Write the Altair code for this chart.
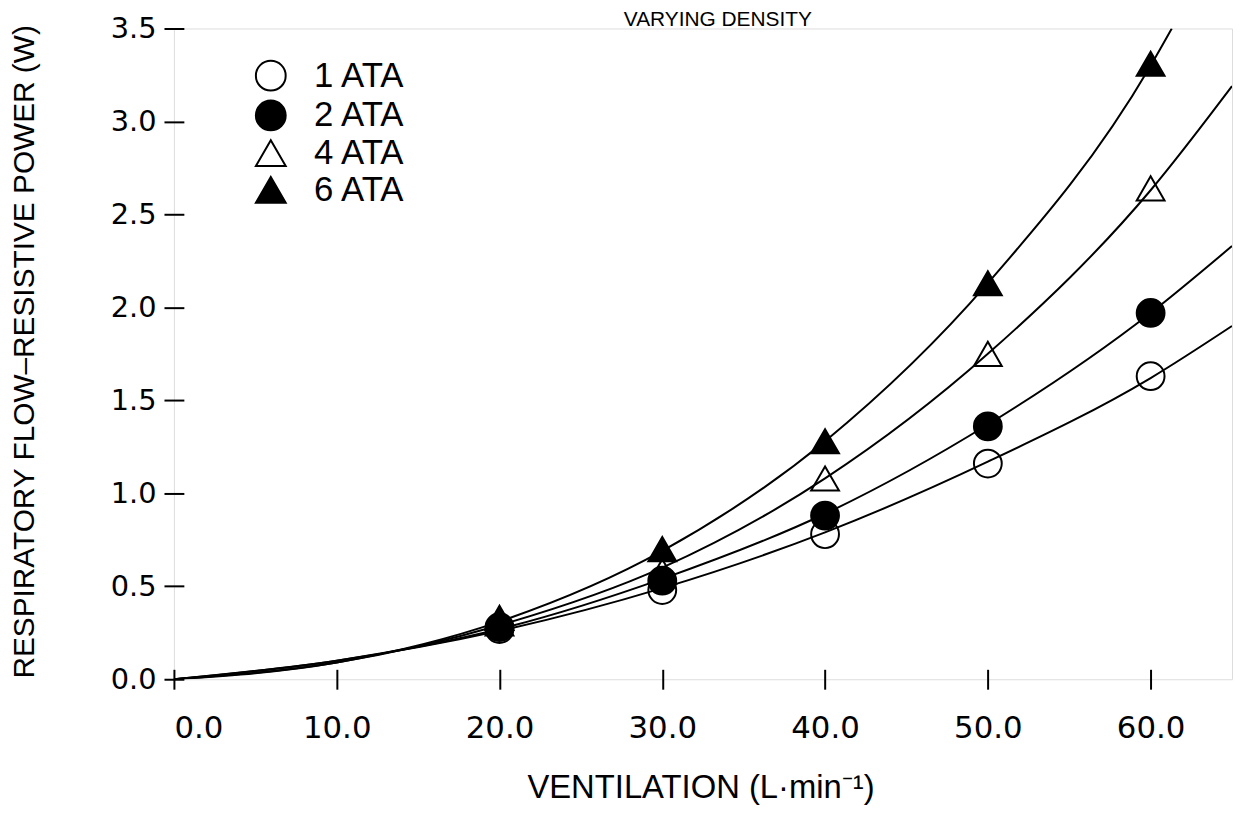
import altair as alt
import pandas as pd

# ---- data ----
ventilation = [20, 30, 40, 50, 60]
power_1ata = [0.27, 0.48, 0.78, 1.16, 1.63]
power_2ata = [0.28, 0.53, 0.88, 1.36, 1.97]
power_4ata = [0.30, 0.58, 1.08, 1.75, 2.64]
power_6ata = [0.33, 0.70, 1.28, 2.13, 3.31]
series_names = ["1 ATA", "2 ATA", "4 ATA", "6 ATA"]
series_shapes = ["circle", "circle", "triangle-up", "triangle-up"]
series_fills = ["transparent", "black", "transparent", "black"]
x_ticks = [0, 10, 20, 30, 40, 50, 60]
y_ticks = [0, 0.5, 1.0, 1.5, 2.0, 2.5, 3.0, 3.5]

# fitted curves
curve_v_1ata = [0, 10, 20, 30, 40, 50, 60, 65]
curve_p_1ata = [0, 0.10, 0.26, 0.49, 0.79, 1.17, 1.62, 1.90]
curve_v_2ata = [0, 10, 20, 30, 40, 50, 60, 65]
curve_p_2ata = [0, 0.10, 0.27, 0.54, 0.89, 1.37, 1.97, 2.33]
curve_v_4ata = [0, 10, 20, 30, 40, 50, 60, 65]
curve_p_4ata = [0, 0.09, 0.29, 0.60, 1.08, 1.75, 2.63, 3.19]
curve_v_6ata = [0, 10, 20, 30, 40, 50, 60, 61.3]
curve_p_6ata = [0, 0.09, 0.31, 0.69, 1.28, 2.13, 3.30, 3.50]

rows = []
for name, vals in zip(series_names, [power_1ata, power_2ata, power_4ata, power_6ata]):
    for v, p in zip(ventilation, vals):
        rows.append({"series": name, "V": v, "P": p})
df = pd.DataFrame(rows)

crows = []
for name, vs, ps in zip(
    series_names,
    [curve_v_1ata, curve_v_2ata, curve_v_4ata, curve_v_6ata],
    [curve_p_1ata, curve_p_2ata, curve_p_4ata, curve_p_6ata],
):
    for v, p in zip(vs, ps):
        crows.append({"series": name, "V": v, "P": p})
cdf = pd.DataFrame(crows)

x_enc = alt.X(
    "V:Q",
    scale=alt.Scale(domain=[0, 65], nice=False, zero=True),
    axis=alt.Axis(
        values=x_ticks, format=".1f", title="VENTILATION (L·min⁻¹)",
        offset=-10, tickSize=20, tickWidth=2, tickColor="black", domain=False, grid=False,
        labelFont="DejaVu Sans", labelFontSize=31, labelColor="black", labelPadding=25,
        titleFont="Liberation Sans", titleFontSize=33, titleFontWeight="normal", titleColor="black",
        titleX=530, titleY=129, titleBaseline="alphabetic", titleAlign="center",
    ),
)
y_enc = alt.Y(
    "P:Q",
    scale=alt.Scale(domain=[0, 3.5], nice=False, zero=True),
    axis=alt.Axis(
        values=y_ticks, format=".1f", title="RESPIRATORY FLOW–RESISTIVE POWER (W)",
        offset=-10, tickSize=20, tickWidth=2, tickColor="black", domain=False, grid=False,
        labelFont="DejaVu Sans", labelFontSize=29, labelColor="black", labelPadding=8,
        titleFont="Liberation Sans", titleFontSize=30, titleFontWeight="normal", titleColor="black",
        titleX=-151, titleY=325, titleBaseline="alphabetic", titleAngle=270, titleAlign="center",
    ),
)

legend = alt.Legend(
    orient="none", legendX=80, legendY=30, title=None, padding=0,
    labelFont="Liberation Sans", labelFontSize=35, labelColor="black", labelOffset=26,
    symbolSize=900, symbolStrokeWidth=2, symbolStrokeColor="black", rowPadding=1,
)

lines = alt.Chart(cdf).mark_line(
    clip=True, color="black", strokeWidth=2, interpolate="monotone"
).encode(x=x_enc, y=y_enc, detail="series:N")

points = alt.Chart(df).mark_point(size=784, strokeWidth=2, opacity=1).encode(
    x=x_enc,
    y=y_enc,
    shape=alt.Shape("series:N", scale=alt.Scale(domain=series_names, range=series_shapes), legend=legend),
    fill=alt.Fill("series:N", scale=alt.Scale(domain=series_names, range=series_fills), legend=legend),
    stroke=alt.Stroke("series:N", scale=alt.Scale(domain=series_names, range=["black"] * 4), legend=legend),
)

chart = alt.layer(lines, points).properties(
    width=1065,
    height=655,
    title=alt.TitleParams(
        "VARYING DENSITY", font="Liberation Sans", fontSize=21, fontWeight="normal",
        color="black", anchor="middle", dx=15, dy=32, offset=0, baseline="alphabetic",
    ),
    autosize=alt.AutoSizeParams(type="none"),
    padding={"left": 167, "top": 18, "right": 3, "bottom": 130},
).configure_view(stroke="black", strokeWidth=2).configure(background="white")

chart.save("out.html", embed_options={"renderer": "svg", "actions": False})
